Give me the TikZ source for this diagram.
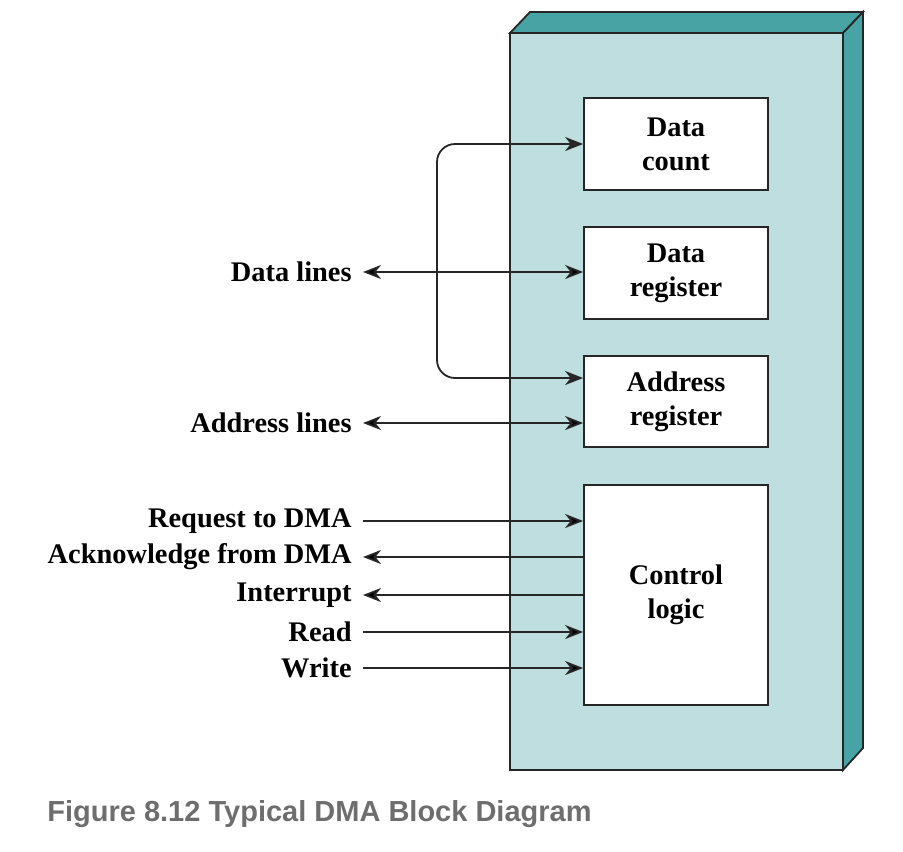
\documentclass[tikz,border=0pt]{standalone}
\usepackage{fontspec}
\setmainfont{Liberation Serif}
\newfontfamily\capfont{Liberation Sans}
\usetikzlibrary{arrows.meta,positioning}
\definecolor{dmafront}{HTML}{BFDEDF}
\definecolor{dmaside}{HTML}{48A4A4}
\definecolor{capgray}{HTML}{6E6E6E}
\tikzset{
  reg/.style={draw=black!85,fill=white,line width=0.9pt,minimum width=92pt,align=center,
    font=\fontsize{14.2}{17}\selectfont\bfseries},
  sig/.style={anchor=east,inner xsep=5.5pt,inner ysep=0pt,font=\fontsize{14.2}{17}\selectfont\bfseries},
  wire/.style={draw=black!85,line width=0.9pt,>={Stealth[length=9pt,width=7pt,inset=2.8pt]}},
}

\begin{document}
\begin{tikzpicture}[x=0.5pt,y=-0.5pt]
\useasboundingbox (0,0) rectangle (903,851);
% housing of the DMA module
\draw[fill=dmaside,draw=black!85,line width=0.9pt] (510,33) -- (530,12) -- (863,12) -- (843,33) -- cycle;
\draw[fill=dmaside,draw=black!85,line width=0.9pt] (843,33) -- (863,12) -- (863,748) -- (843,770) -- cycle;
\draw[fill=dmafront,draw=black!85,line width=0.9pt] (510,33) rectangle (843,770);
% registers
\node[reg,minimum height=46pt] (dc) at (676,144) {Data\\count};
\node[reg,minimum height=46pt] (dr) at (676,273) {Data\\register};
\node[reg,minimum height=45.5pt] (ar) at (676,401.5) {Address\\register};
\node[reg,minimum height=110pt] (cl) at (676,595) {Control\\logic};
% signal names
\node[sig] (dl) at (363,272) {Data lines};
\node[sig] (al) at (363,423) {Address lines};
\node[sig] (req) at (363,521) {Request to DMA};
\node[sig] (ack) at (363,557) {Acknowledge from DMA};
\node[sig] (irq) at (363,595) {Interrupt};
\node[sig] (rd) at (363,632) {Read};
\node[sig] (wr) at (363,668) {Write};
\coordinate (bend) at (437,272);
\path[wire]
(dl) edge[<->] (dl -| dr.west)
(al) edge[<->] (al -| ar.west)
(req) edge[->] (req -| cl.west)
(ack) edge[<-] (ack -| cl.west)
(irq) edge[<-] (irq -| cl.west)
(rd) edge[->] (rd -| cl.west)
(wr) edge[->] (wr -| cl.west);
\draw[wire,<->,rounded corners=9pt] (dc.west) -| (bend) |- ([yshift=11.75pt]ar.west);
\node[anchor=base west,inner sep=0pt,text=capgray,font=\capfont\fontsize{14.5}{17}\selectfont\bfseries] (cap) at (47,821) {Figure 8.12 Typical DMA Block Diagram};
\end{tikzpicture}
\end{document}
